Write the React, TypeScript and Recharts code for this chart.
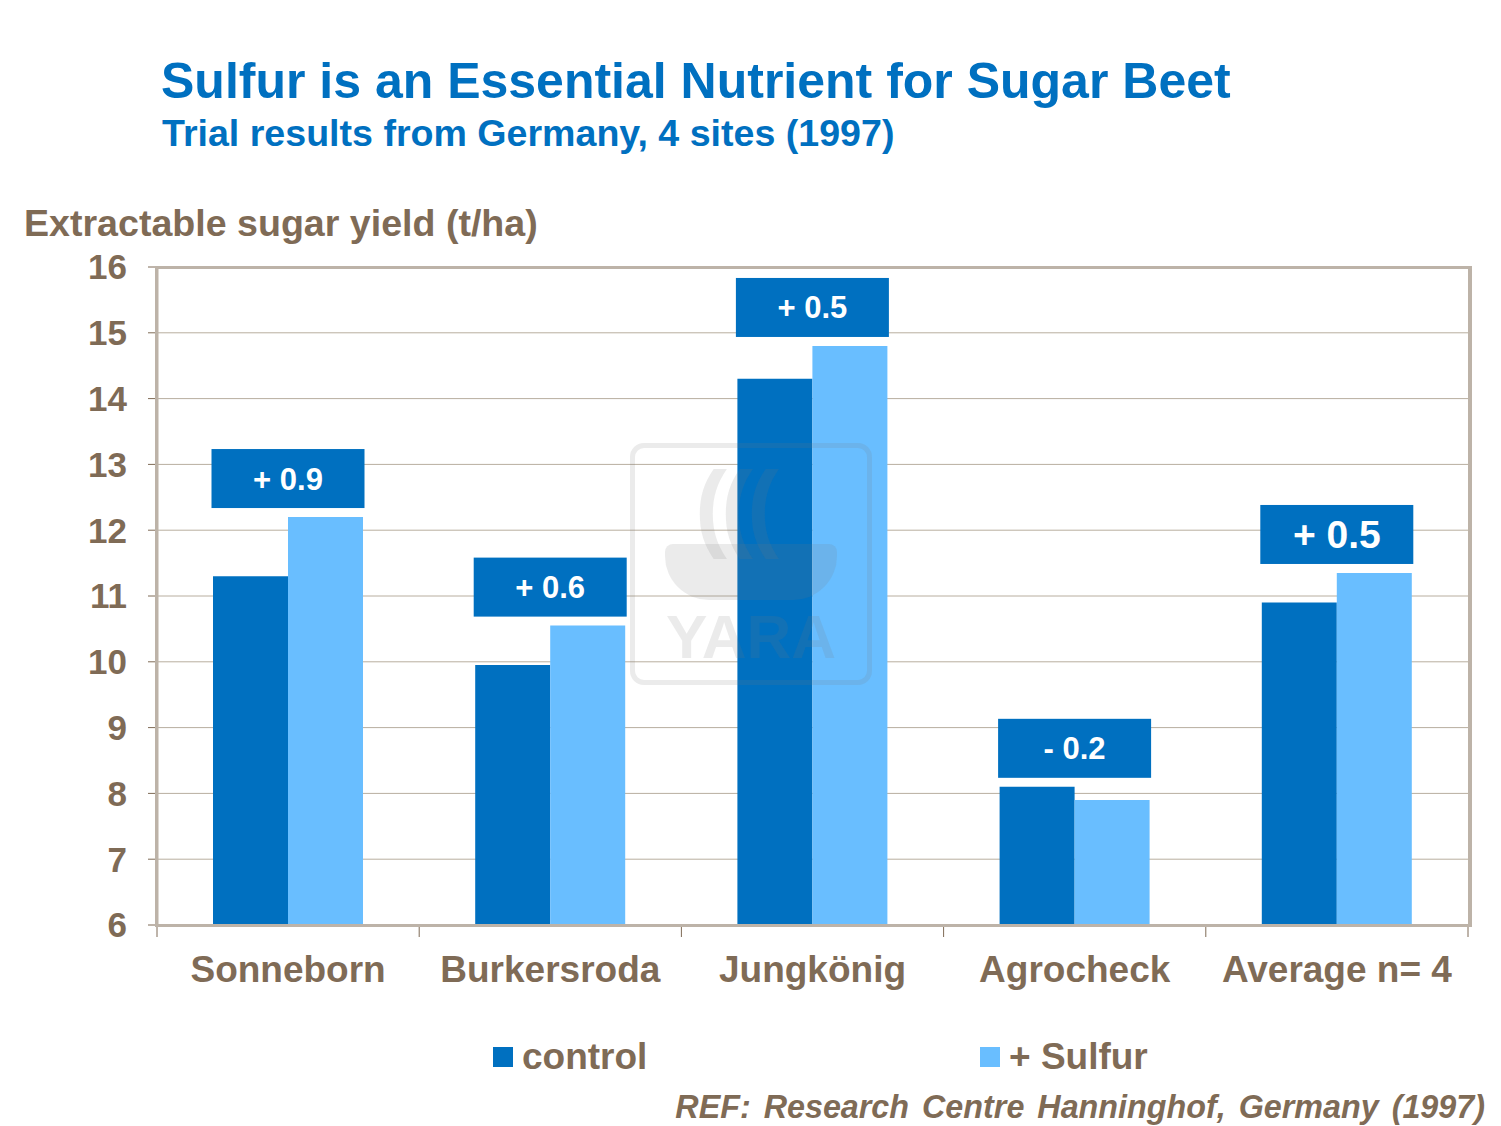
import { BarChart, Bar, XAxis, YAxis, CartesianGrid, LabelList } from "recharts";

const sites = ["Sonneborn", "Burkersroda", "Jungkönig", "Agrocheck", "Average n= 4"];
const control = [11.3, 9.95, 14.3, 8.1, 10.9];
const sulfur = [12.2, 10.55, 14.8, 7.9, 11.35];
const diffLabels = ["+ 0.9", "+ 0.6", "+ 0.5", "- 0.2", "+ 0.5"];
const yTicks = [6, 7, 8, 9, 10, 11, 12, 13, 14, 15, 16];

const data = sites.map((site, i) => ({ site, control: control[i], sulfur: sulfur[i] }));

const BROWN = "#7F6B56";
const DARK = "#0070C0";
const LIGHT = "#69BEFF";
const FRAME = "#BDB3A8";
const FONT = "'Liberation Sans', Arial, sans-serif";

const W = 1485;
const H = 1110;
const BAND = 1311 / 5;

function XTick(props: any) {
  const { x, y, payload, index } = props;
  const left = x - BAND / 2;
  return (
    <g>
      <line x1={left} y1={y - 8} x2={left} y2={y + 4} stroke={BROWN} strokeWidth={1} />
      {index === sites.length - 1 && (
        <line x1={x + BAND / 2} y1={y - 8} x2={x + BAND / 2} y2={y + 4} stroke={BROWN} strokeWidth={1} />
      )}
      <text x={x} y={y + 49} textAnchor="middle" fill={BROWN} fontSize={37} fontWeight="bold" fontFamily={FONT}>
        {payload.value}
      </text>
    </g>
  );
}

function DiffBox(props: any) {
  const { x, y, height, index } = props;
  const ppu = height / (sulfur[index] - 6);
  const top = y + height - (Math.max(control[index], sulfur[index]) - 6) * ppu;
  const bw = 153;
  const bh = 59;
  const by = top - 9 - bh;
  const big = index === sites.length - 1;
  return (
    <g>
      <rect x={x - bw / 2} y={by} width={bw} height={bh} fill={DARK} />
      <text
        x={x}
        y={by + bh / 2 + (big ? 14 : 11)}
        textAnchor="middle"
        fill="#fff"
        fontSize={big ? 39 : 31}
        fontWeight="bold"
        fontFamily={FONT}
      >
        {diffLabels[index]}
      </text>
    </g>
  );
}

export default function App() {
  return (
    <div style={{ position: "relative", width: W, height: 1118, fontFamily: FONT, background: "#fff" }}>
      <div style={{ position: "absolute", left: 153, top: 44, color: DARK, fontSize: 50, fontWeight: "bold", whiteSpace: "nowrap" }}>
        Sulfur is an Essential Nutrient for Sugar Beet
      </div>
      <div style={{ position: "absolute", left: 154, top: 104, color: DARK, fontSize: 37.6, fontWeight: "bold", whiteSpace: "nowrap" }}>
        Trial results from Germany, 4 sites (1997)
      </div>
      <div style={{ position: "absolute", left: 16, top: 194, color: BROWN, fontSize: 37.6, fontWeight: "bold", whiteSpace: "nowrap" }}>
        Extractable sugar yield (t/ha)
      </div>

      <BarChart
        width={W}
        height={H}
        data={data}
        margin={{ top: 259, right: 25, bottom: 133, left: 69 }}
        barGap={0}
        style={{ position: "absolute", left: 0, top: 0 }}
      >
        <CartesianGrid vertical={false} stroke="#B8AE9F" strokeWidth={1} />
        <XAxis
          dataKey="site"
          height={60}
          tickLine={false}
          axisLine={{ stroke: BROWN, strokeWidth: 1 }}
          tick={<XTick />}
          interval={0}
        />
        <YAxis
          width={80}
          domain={[6, 16]}
          ticks={yTicks}
          allowDataOverflow
          tickSize={9}
          tickMargin={21}
          tickLine={{ stroke: BROWN }}
          axisLine={{ stroke: FRAME, strokeWidth: 3 }}
          tick={{ fill: BROWN, fontSize: 35, fontWeight: "bold", fontFamily: FONT }}
        />
        <Bar dataKey="control" fill={DARK} barSize={75} isAnimationActive={false} />
        <Bar dataKey="sulfur" fill={LIGHT} barSize={75} isAnimationActive={false}>
          <LabelList dataKey="sulfur" content={<DiffBox />} />
        </Bar>
      </BarChart>

      {/* plot frame */}
      <div
        style={{
          position: "absolute",
          left: 147,
          top: 258,
          width: 1317,
          height: 661,
          borderTop: "3px solid " + FRAME,
          borderLeft: "3px solid " + FRAME,
          borderRight: "4px solid " + FRAME,
          borderBottom: "3px solid " + FRAME,
          boxSizing: "border-box",
          pointerEvents: "none",
        }}
      />

      {/* watermark */}
      <div
        style={{
          position: "absolute",
          left: 622,
          top: 435,
          width: 232,
          height: 232,
          border: "5px solid rgba(120,120,120,0.15)",
          borderRadius: 14,
          pointerEvents: "none",
        }}
      >
        <div
          style={{
            position: "absolute",
            left: 0,
            right: 0,
            top: 158,
            textAlign: "center",
            fontSize: 62,
            fontWeight: "bold",
            color: "rgba(120,120,120,0.15)",
            lineHeight: 1,
          }}
        >
          YARA
        </div>
        <div
          style={{
            position: "absolute",
            left: 30,
            top: 96,
            width: 172,
            height: 56,
            background: "rgba(120,120,120,0.15)",
            borderRadius: "8px 8px 44px 44px",
          }}
        />
        <div
          style={{
            position: "absolute",
            left: 60,
            top: 10,
            fontSize: 96,
            fontWeight: "bold",
            color: "rgba(120,120,120,0.15)",
            lineHeight: 1,
            letterSpacing: -6,
          }}
        >
          (((
        </div>
      </div>

      {/* legend */}
      <div style={{ position: "absolute", left: 485, top: 1028, display: "flex", alignItems: "center", color: BROWN, fontSize: 37, fontWeight: "bold" }}>
        <span style={{ display: "inline-block", width: 20, height: 20, background: DARK, marginRight: 9 }} />
        control
      </div>
      <div style={{ position: "absolute", left: 972, top: 1028, display: "flex", alignItems: "center", color: BROWN, fontSize: 37, fontWeight: "bold" }}>
        <span style={{ display: "inline-block", width: 20, height: 20, background: LIGHT, marginRight: 9 }} />
        + Sulfur
      </div>

      <div
        style={{
          position: "absolute",
          right: 8,
          top: 1081,
          color: BROWN,
          fontSize: 32.3,
          fontWeight: "bold",
          fontStyle: "italic",
          wordSpacing: 4,
          whiteSpace: "nowrap",
        }}
      >
        REF: Research Centre Hanninghof, Germany (1997)
      </div>
    </div>
  );
}
